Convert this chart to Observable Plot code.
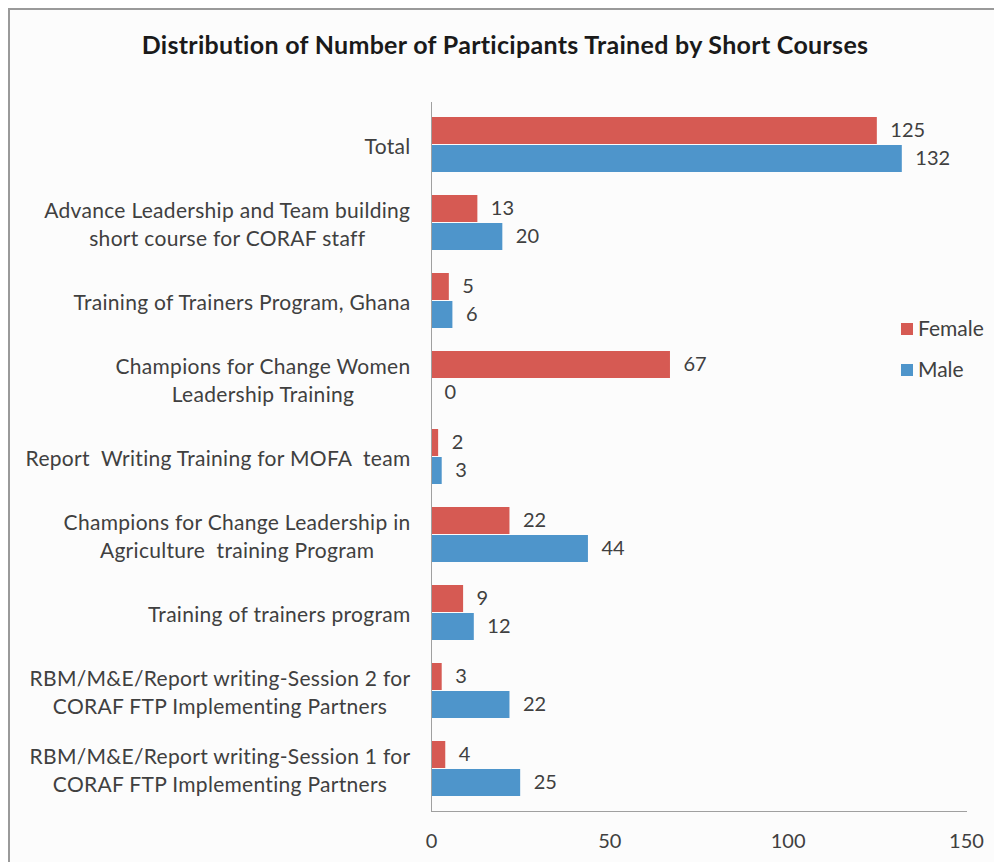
<!DOCTYPE html>
<html>
<head>
<meta charset="utf-8">
<script src="https://cdn.jsdelivr.net/npm/d3@7"></script>
<script src="https://cdn.jsdelivr.net/npm/@observablehq/plot@0.6"></script>
<style>
  html, body { margin: 0; padding: 0; background: #ffffff; }
  #wrap { position: relative; width: 994px; height: 862px; overflow: hidden; font-family: Lato, "Open Sans", sans-serif; font-variant-ligatures: none; }
  #frame { position: absolute; left: 8px; top: 8px; width: 990px; height: 860px; border-left: 2px solid #9a9a9a; border-top: 2px solid #9a9a9a; background: #fcfcfc; }
  #title { position: absolute; left: 0; width: 1010px; top: 29px; text-align: center; font-size: 25px; letter-spacing: 0.3px; font-weight: bold; color: #1a1a1a; }
  .leg { position: absolute; left: 901px; font-size: 21px; color: #404040; }
  .sw { display: inline-block; width: 12px; height: 12px; margin-right: 5px; vertical-align: 1px; }
  #chart { position: absolute; left: 0; top: 0; }
  #chart svg text { font-variant-ligatures: none; }
  #chart svg g[aria-label="y-axis tick label"] text { letter-spacing: 0.3px; }
</style>
</head>
<body>
<div id="wrap">
  <div id="frame"></div>
  <div id="title">Distribution of Number of Participants Trained by Short Courses</div>
  <div id="chart"></div>
  <div class="leg" style="top:315px"><span class="sw" style="background:#d65a53"></span>Female</div>
  <div class="leg" style="top:356px"><span class="sw" style="background:#4e95cb"></span>Male</div>
</div>
<script>
const categories = [
  "Total",
  "Advance Leadership and Team building\nshort course for CORAF staff",
  "Training of Trainers Program, Ghana",
  "Champions for Change Women\nLeadership Training",
  "Report  Writing Training for MOFA  team",
  "Champions for Change Leadership in\nAgriculture  training Program",
  "Training of trainers program",
  "RBM/M&E/Report writing-Session 2 for\nCORAF FTP Implementing Partners",
  "RBM/M&E/Report writing-Session 1 for\nCORAF FTP Implementing Partners"
];
const female = [125, 13, 5, 67, 2, 22, 9, 3, 4];
const male = [132, 20, 6, 0, 3, 44, 12, 22, 25];
const seriesNames = ["Female", "Male"];
const seriesColors = ["#d65a53", "#4e95cb"];
const xTicks = [0, 50, 100, 150];

const femaleRows = categories.map((c, i) => ({cat: c, sex: "Female", value: female[i]}));
const maleRows = categories.map((c, i) => ({cat: c, sex: "Male", value: male[i]}));

// band step ≈ 78.8px, inner padding 0.29 -> ~56px for the pair, 28px per bar
const half = 28;

const chart = Plot.plot({
  width: 994,
  height: 862,
  marginTop: 102,
  marginBottom: 51,
  marginLeft: 431,
  marginRight: 28,
  style: {background: "transparent", fontFamily: "Lato, 'Open Sans', sans-serif", color: "#404040"},
  x: {domain: [0, 150]},
  y: {domain: categories, paddingInner: 0.29, paddingOuter: 0.15},
  color: {domain: seriesNames, range: seriesColors},
  marks: [
    Plot.barX(femaleRows, {y: "cat", x: "value", fill: "sex", insetBottom: half}),
    Plot.barX(maleRows, {y: "cat", x: "value", fill: "sex", insetTop: half}),
    Plot.text(femaleRows, {y: "cat", x: "value", text: d => String(d.value), textAnchor: "start", dx: 13, dy: -half / 2, fontSize: 20, fill: "#404040"}),
    Plot.text(maleRows, {y: "cat", x: "value", text: d => String(d.value), textAnchor: "start", dx: 13, dy: half / 2, fontSize: 20, fill: "#404040"}),
    Plot.axisY({tickSize: 0, tickPadding: 21, fontSize: 21, lineHeight: 1.33, label: null, fill: "#404040"}),
    Plot.axisX({ticks: xTicks, tickSize: 0, tickPadding: 22, fontSize: 20, label: null, fill: "#404040"}),
    Plot.frame({anchor: "bottom", stroke: "#a0a0a0"}),
    Plot.frame({anchor: "left", stroke: "#a0a0a0"})
  ]
});
document.getElementById("chart").appendChild(chart);

// Center each multi-line category label's lines within its block (block stays right-aligned).
chart.querySelectorAll('g[aria-label="y-axis tick label"] text').forEach(t => {
  const w = t.getBBox().width;
  t.setAttribute("text-anchor", "middle");
  const tr = t.getAttribute("transform") || "";
  t.setAttribute("transform", tr + ` translate(${-w / 2},0)`);
});
</script>
</body>
</html>
